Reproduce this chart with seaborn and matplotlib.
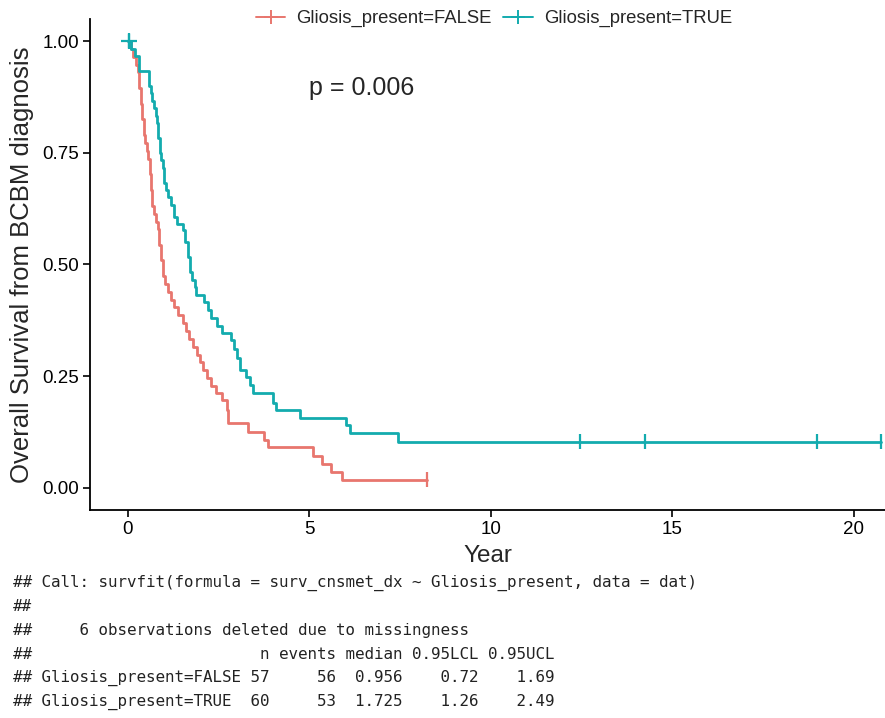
import numpy as np
import pandas as pd
import matplotlib
matplotlib.use("Agg")
import matplotlib.pyplot as plt
from matplotlib.lines import Line2D
import seaborn as sns

# Kaplan-Meier step knots (time in years, survival after step)
false_time = [0, 0.08, 0.15, 0.22, 0.27, 0.32, 0.36, 0.40, 0.44, 0.48, 0.52, 0.56, 0.60,
              0.64, 0.68, 0.72, 0.77, 0.82, 0.87, 0.92, 0.96, 1.02, 1.10, 1.18, 1.26,
              1.38, 1.51, 1.60, 1.70, 1.79, 1.90, 2.00, 2.08, 2.17, 2.28, 2.42, 2.60,
              2.72, 2.75, 3.32, 3.75, 3.87, 5.10, 5.35, 5.60, 5.90, 8.24]
false_surv = [1.0, 0.982, 0.965, 0.947, 0.930, 0.895, 0.860, 0.825, 0.790, 0.772, 0.754,
              0.737, 0.702, 0.667, 0.632, 0.614, 0.596, 0.579, 0.544, 0.509, 0.474, 0.456,
              0.439, 0.421, 0.404, 0.386, 0.368, 0.351, 0.333, 0.316, 0.298, 0.281, 0.263,
              0.246, 0.228, 0.211, 0.197, 0.175, 0.145, 0.125, 0.107, 0.090, 0.072, 0.054,
              0.036, 0.018, 0.018]

true_time = [0, 0.10, 0.20, 0.30, 0.58, 0.63, 0.68, 0.72, 0.77, 0.80, 0.84, 0.88, 0.92,
             0.96, 1.00, 1.04, 1.10, 1.18, 1.26, 1.35, 1.51, 1.58, 1.65, 1.725, 1.78,
             1.84, 1.87, 2.09, 2.20, 2.28, 2.45, 2.60, 2.83, 2.92, 3.00, 3.10, 3.25,
             3.36, 3.46, 4.00, 4.07, 4.75, 6.00, 6.13, 7.45, 20.74]
true_surv = [1.0, 0.983, 0.967, 0.933, 0.900, 0.883, 0.866, 0.850, 0.833, 0.816, 0.783,
             0.750, 0.733, 0.716, 0.683, 0.667, 0.650, 0.633, 0.606, 0.590, 0.577, 0.550,
             0.517, 0.483, 0.466, 0.450, 0.432, 0.415, 0.398, 0.380, 0.363, 0.347, 0.330,
             0.310, 0.290, 0.264, 0.247, 0.230, 0.213, 0.190, 0.174, 0.157, 0.140, 0.123,
             0.103, 0.103]

# censoring marks
false_cens_t = [8.24]
false_cens_s = [0.018]
true_cens_t = [0.03, 12.45, 14.26, 18.98, 20.74]
true_cens_s = [1.0, 0.103, 0.103, 0.103, 0.103]

groups = ["Gliosis_present=FALSE", "Gliosis_present=TRUE"]
colors = {"Gliosis_present=FALSE": "#E8766E", "Gliosis_present=TRUE": "#13ABAE"}

km = pd.concat([
    pd.DataFrame({"time": false_time, "surv": false_surv, "group": groups[0]}),
    pd.DataFrame({"time": true_time, "surv": true_surv, "group": groups[1]}),
])
cens = pd.concat([
    pd.DataFrame({"time": false_cens_t, "surv": false_cens_s, "group": groups[0]}),
    pd.DataFrame({"time": true_cens_t, "surv": true_cens_s, "group": groups[1]}),
])

sns.set_style("white")
plt.rcParams["font.family"] = ["Liberation Sans", "DejaVu Sans"]

fig = plt.figure(figsize=(8.85, 7.18), dpi=100)
ax = fig.add_axes([0.1017, 0.2897, 0.898, 0.684])

sns.lineplot(data=km, x="time", y="surv", hue="group", palette=colors,
             drawstyle="steps-post", estimator=None, linewidth=2.0,
             legend=False, ax=ax)
sns.scatterplot(data=cens, x="time", y="surv", hue="group", palette=colors,
                marker="|", s=110, linewidth=1.6, legend=False, ax=ax, zorder=3)
# start mark is a cross
ax.plot([0.03], [1.0], marker="+", markersize=11, markeredgewidth=1.6,
        color=colors[groups[1]], linestyle="none")

ax.set_xlim(-1.04, 20.85)
ax.set_ylim(-0.05, 1.05)
ax.set_xticks([0, 5, 10, 15, 20])
ax.set_yticks([0, 0.25, 0.5, 0.75, 1.0])
ax.set_yticklabels(["0.00", "0.25", "0.50", "0.75", "1.00"])
ax.tick_params(axis="both", direction="out", length=5, width=1.2, color="black",
               labelsize=13.5, labelcolor="black", pad=3, bottom=True, left=True)
for side in ["top", "right"]:
    ax.spines[side].set_visible(False)
for side in ["left", "bottom"]:
    ax.spines[side].set_color("black")
    ax.spines[side].set_linewidth(1.3)
ax.set_xlabel("Year", fontsize=17.5, labelpad=5)
ax.set_ylabel("Overall Survival from BCBM diagnosis", fontsize=18.5, labelpad=6)

ax.text(5.0, 0.895, "p = 0.006", fontsize=18, ha="left", va="center")

handles = [Line2D([0], [0], color=colors[g], marker="+", markersize=10,
                  markeredgewidth=1.4, linewidth=1.4) for g in groups]
fig.legend(handles, groups, loc="center", bbox_to_anchor=(0.558, 0.974), ncol=2,
           frameon=False, fontsize=13.3, handlelength=1.6, columnspacing=0.6,
           handletextpad=0.6)

lines = [
    "## Call: survfit(formula = surv_cnsmet_dx ~ Gliosis_present, data = dat)",
    "##",
    "##     6 observations deleted due to missingness",
    "##                        n events median 0.95LCL 0.95UCL",
    "## Gliosis_present=FALSE 57     56  0.956    0.72    1.69",
    "## Gliosis_present=TRUE  60     53  1.725    1.26    2.49",
]
for i, line in enumerate(lines):
    y_px = 583 + i * 23.8
    fig.text(13 / 885, 1 - y_px / 718, line, family="DejaVu Sans Mono",
             fontsize=11.4, color="#222222", va="center", ha="left")

fig.savefig("out.png", dpi=100)
